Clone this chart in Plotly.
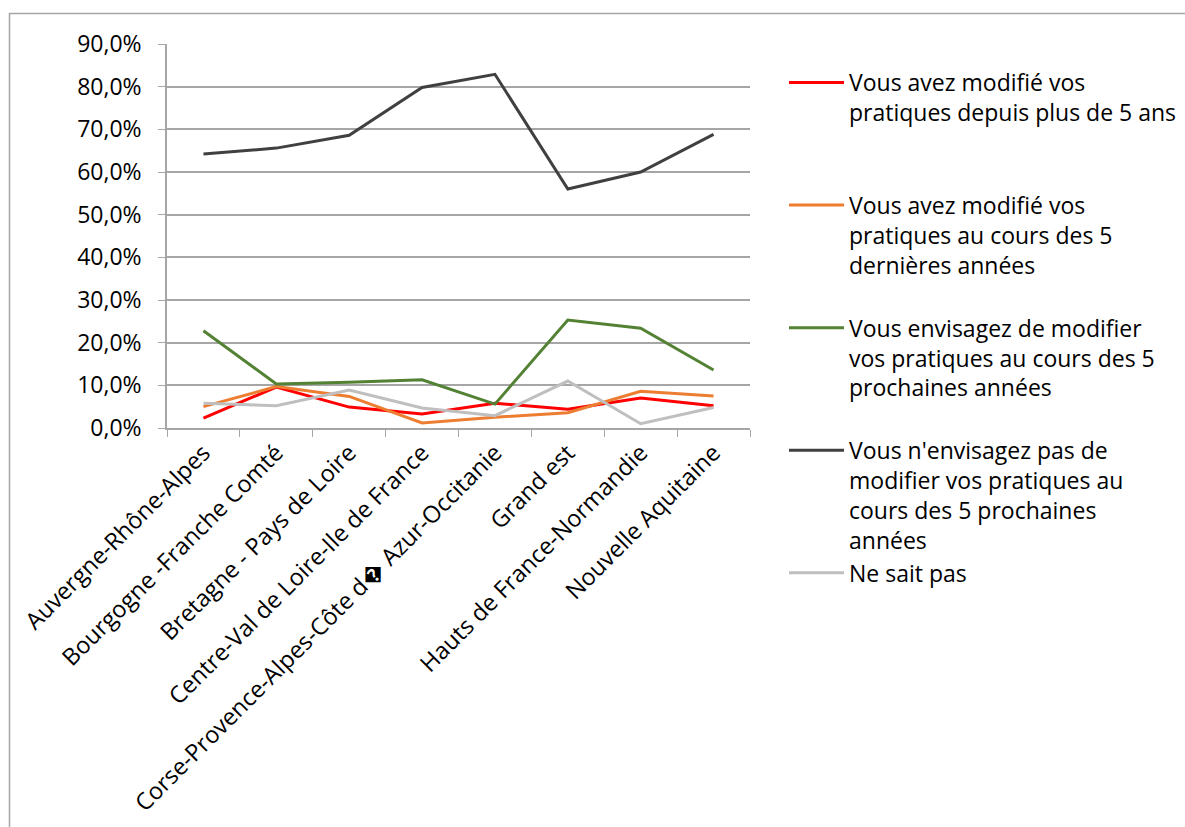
import plotly.graph_objects as go

regions = [
    "Auvergne-Rhône-Alpes",
    "Bourgogne -Franche Comté",
    "Bretagne - Pays de Loire",
    "Centre-Val de Loire-Ile de France",
    "Corse-Provence-Alpes-Côte d\ufffd Azur-Occitanie",
    "Grand est",
    "Hauts de France-Normandie",
    "Nouvelle Aquitaine",
]

modifie_plus_5_ans = [2.3, 9.6, 4.9, 3.3, 5.8, 4.4, 7.0, 5.2]
modifie_5_dernieres = [5.0, 9.7, 7.4, 1.2, 2.5, 3.6, 8.6, 7.5]
envisage_modifier = [22.8, 10.3, 10.7, 11.3, 5.6, 25.3, 23.4, 13.6]
envisage_pas = [64.2, 65.6, 68.6, 79.8, 82.9, 56.0, 60.0, 68.8]
ne_sait_pas = [5.8, 5.2, 8.9, 4.7, 2.9, 11.0, 1.0, 4.8]

series_names = [
    "Vous avez modifié vos<br>pratiques depuis plus de 5 ans",
    "Vous avez modifié vos<br>pratiques au cours des 5<br>dernières années",
    "Vous envisagez de modifier<br>vos pratiques au cours des 5<br>prochaines années",
    "Vous n'envisagez pas de<br>modifier vos pratiques au<br>cours des 5 prochaines<br>années",
    "Ne sait pas",
]
series_values = [modifie_plus_5_ans, modifie_5_dernieres, envisage_modifier, envisage_pas, ne_sait_pas]
series_colors = ["#FF0000", "#ED7D31", "#548235", "#404040", "#BFBFBF"]

y_ticks = [0, 10, 20, 30, 40, 50, 60, 70, 80, 90]
y_tick_labels = ["0,0%", "10,0%", "20,0%", "30,0%", "40,0%", "50,0%", "60,0%", "70,0%", "80,0%", "90,0%"]

FONT = "Open Sans"
FS = 23
W, H = 1185, 827
L, R, T, B = 167, 435, 44, 399

fig = go.Figure()
for i, (name, vals, col) in enumerate(zip(series_names, series_values, series_colors)):
    lines = name.count("<br>") + 1
    pad = "<br> " * (4 - lines) if i < len(series_names) - 1 else ""
    fig.add_trace(go.Scatter(
        x=regions, y=vals, mode="lines", name=name + pad,
        line=dict(color=col, width=3), legendgroup=f"g{i}",
    ))

plot_w = W - L - R
plot_h = H - T - B

def px_x(p):
    return (p - L) / plot_w

def px_y(p):
    return (H - B - p) / plot_h

# outer frame of the chart area
fig.add_shape(type="rect", xref="paper", yref="paper",
              x0=px_x(9.5), x1=px_x(1195), y0=px_y(835), y1=px_y(13.5),
              line=dict(color="#A6A6A6", width=1.5), fillcolor="rgba(0,0,0,0)", layer="below")

fig.update_layout(
    width=W, height=H,
    margin=dict(l=L, r=R, t=T, b=B, autoexpand=False),
    paper_bgcolor="white", plot_bgcolor="white",
    font=dict(family=FONT, size=FS, color="#000000"),
    showlegend=True,
    legend=dict(
        x=px_x(784), y=px_y(61), xanchor="left", yanchor="top",
        valign="top", tracegroupgap=0, itemwidth=55, maxheight=790,
        font=dict(family=FONT, size=FS, color="#000000"),
        bgcolor="rgba(0,0,0,0)",
    ),
    xaxis=dict(
        type="category", tickangle=-45, tickson="boundaries",
        ticks="outside", ticklen=7, tickcolor="#A6A6A6",
        showline=True, linecolor="#A6A6A6", linewidth=1.5,
        showgrid=False, automargin=False,
        tickfont=dict(family=FONT, size=23.5),
        range=[-0.5, 7.5],
    ),
    yaxis=dict(
        range=[0, 90], tickvals=y_ticks, ticktext=y_tick_labels,
        ticks="outside", ticklen=7, tickcolor="#A6A6A6",
        showline=True, linecolor="#A6A6A6", linewidth=1.5,
        showgrid=True, gridcolor="#A6A6A6", gridwidth=1.5,
        zeroline=False, automargin=False, ticklabelstandoff=12,
        tickfont=dict(family=FONT, size=FS),
    ),
)

fig.write_html("out.html")
